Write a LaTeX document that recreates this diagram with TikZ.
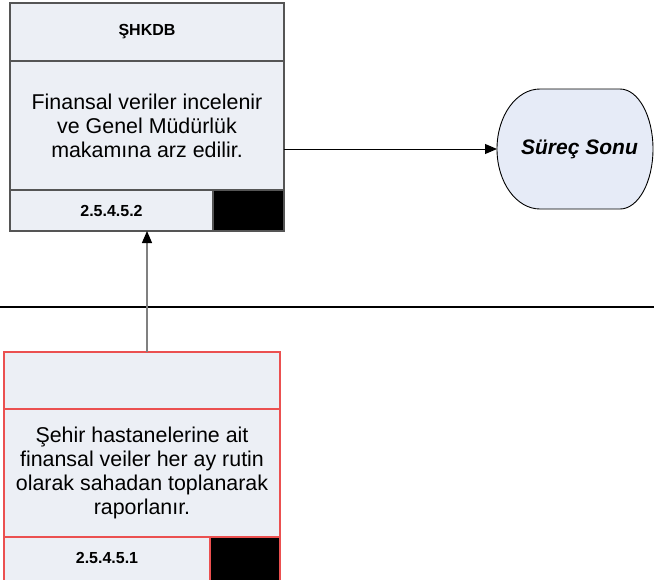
\documentclass[tikz,border=0pt]{standalone}
\usepackage{fontspec}
\setmainfont{Liberation Sans}
\usetikzlibrary{positioning, arrows.meta}
\definecolor{boxfill}{RGB}{236,239,245}
\definecolor{endfill}{RGB}{230,235,247}
\definecolor{boxgray}{RGB}{85,85,85}
\definecolor{boxred}{RGB}{235,80,80}

\begin{document}
\begin{tikzpicture}[x=1pt, y=-1pt,
    cell/.style={draw=boxgray, fill=boxfill, line width=1.1pt,
                 inner sep=0pt, outer sep=0pt, align=center},
    redcell/.style={cell, draw=boxred},
    idtag/.style={font=\fontsize{16}{18}\selectfont\bfseries},
    bodytext/.style={font=\fontsize{21.4}{24}\selectfont},
    flow/.style={-{Triangle[length=12pt, width=10pt, color=black]}, line width=1pt}]
    \useasboundingbox (0,0) rectangle (654,579);
    % Top process (2.5.4.5.2)
    \node[cell, idtag, anchor=north west, minimum width=274pt,
          minimum height=58pt] (head2) at (10,3) {ŞHKDB};
    \node[cell, bodytext, below=0pt of head2, minimum width=274pt,
          minimum height=129pt] (body2)
          {Finansal veriler incelenir\\ve Genel Müdürlük\\makamına arz edilir.};
    \node[cell, idtag, below=0pt of body2.south west, anchor=north west,
          minimum width=203pt, minimum height=41pt] (id2) {2.5.4.5.2};
    \node[cell, fill=black, right=0pt of id2, minimum width=71pt,
          minimum height=41pt] (tag2) {};
    % End
    \node[inner sep=0pt, outer sep=0pt, minimum width=156pt, minimum height=120pt,
          font=\fontsize{21}{24}\selectfont\bfseries\itshape] (sonu)
          at (575,149) {};
    \filldraw[draw=black, fill=endfill, line width=0.9pt]
          ([xshift=43pt]sonu.north west)
          arc[start angle=90, end angle=270, x radius=43pt, y radius=60pt]
          -- ([xshift=-33pt]sonu.south east)
          arc[start angle=-90, end angle=90, x radius=33pt, y radius=60pt]
          -- cycle;
    \node[font=\fontsize{21}{24}\selectfont\bfseries\itshape] (sonutext)
          at ([xshift=4.5pt]sonu.center) {Süreç Sonu};
    % Lane border
    \draw[line width=2.5pt] (0,307) -- (654,307);
    % Bottom process (2.5.4.5.1)
    \node[redcell, idtag, anchor=north west, minimum width=276pt,
          minimum height=57pt] (head1) at (4,352) {};
    \node[redcell, bodytext, below=0pt of head1, minimum width=276pt,
          minimum height=128pt] (body1)
          {Şehir hastanelerine ait\\finansal veiler her ay rutin\\olarak sahadan toplanarak\\raporlanır.};
    \node[redcell, idtag, below=0pt of body1.south west, anchor=north west,
          minimum width=206pt, minimum height=44pt] (id1) {\raisebox{1.5pt}{2.5.4.5.1}};
    \node[redcell, fill=black, right=0pt of id1, minimum width=70pt,
          minimum height=44pt] (tag1) {};
    \draw[flow] (sonu.west -| body2.east) -- (sonu.west);
    \draw[flow, draw=gray, line width=1.3pt] (head2.south |- head1.north) -- (head2.south |- tag2.south);
\end{tikzpicture}
\end{document}
